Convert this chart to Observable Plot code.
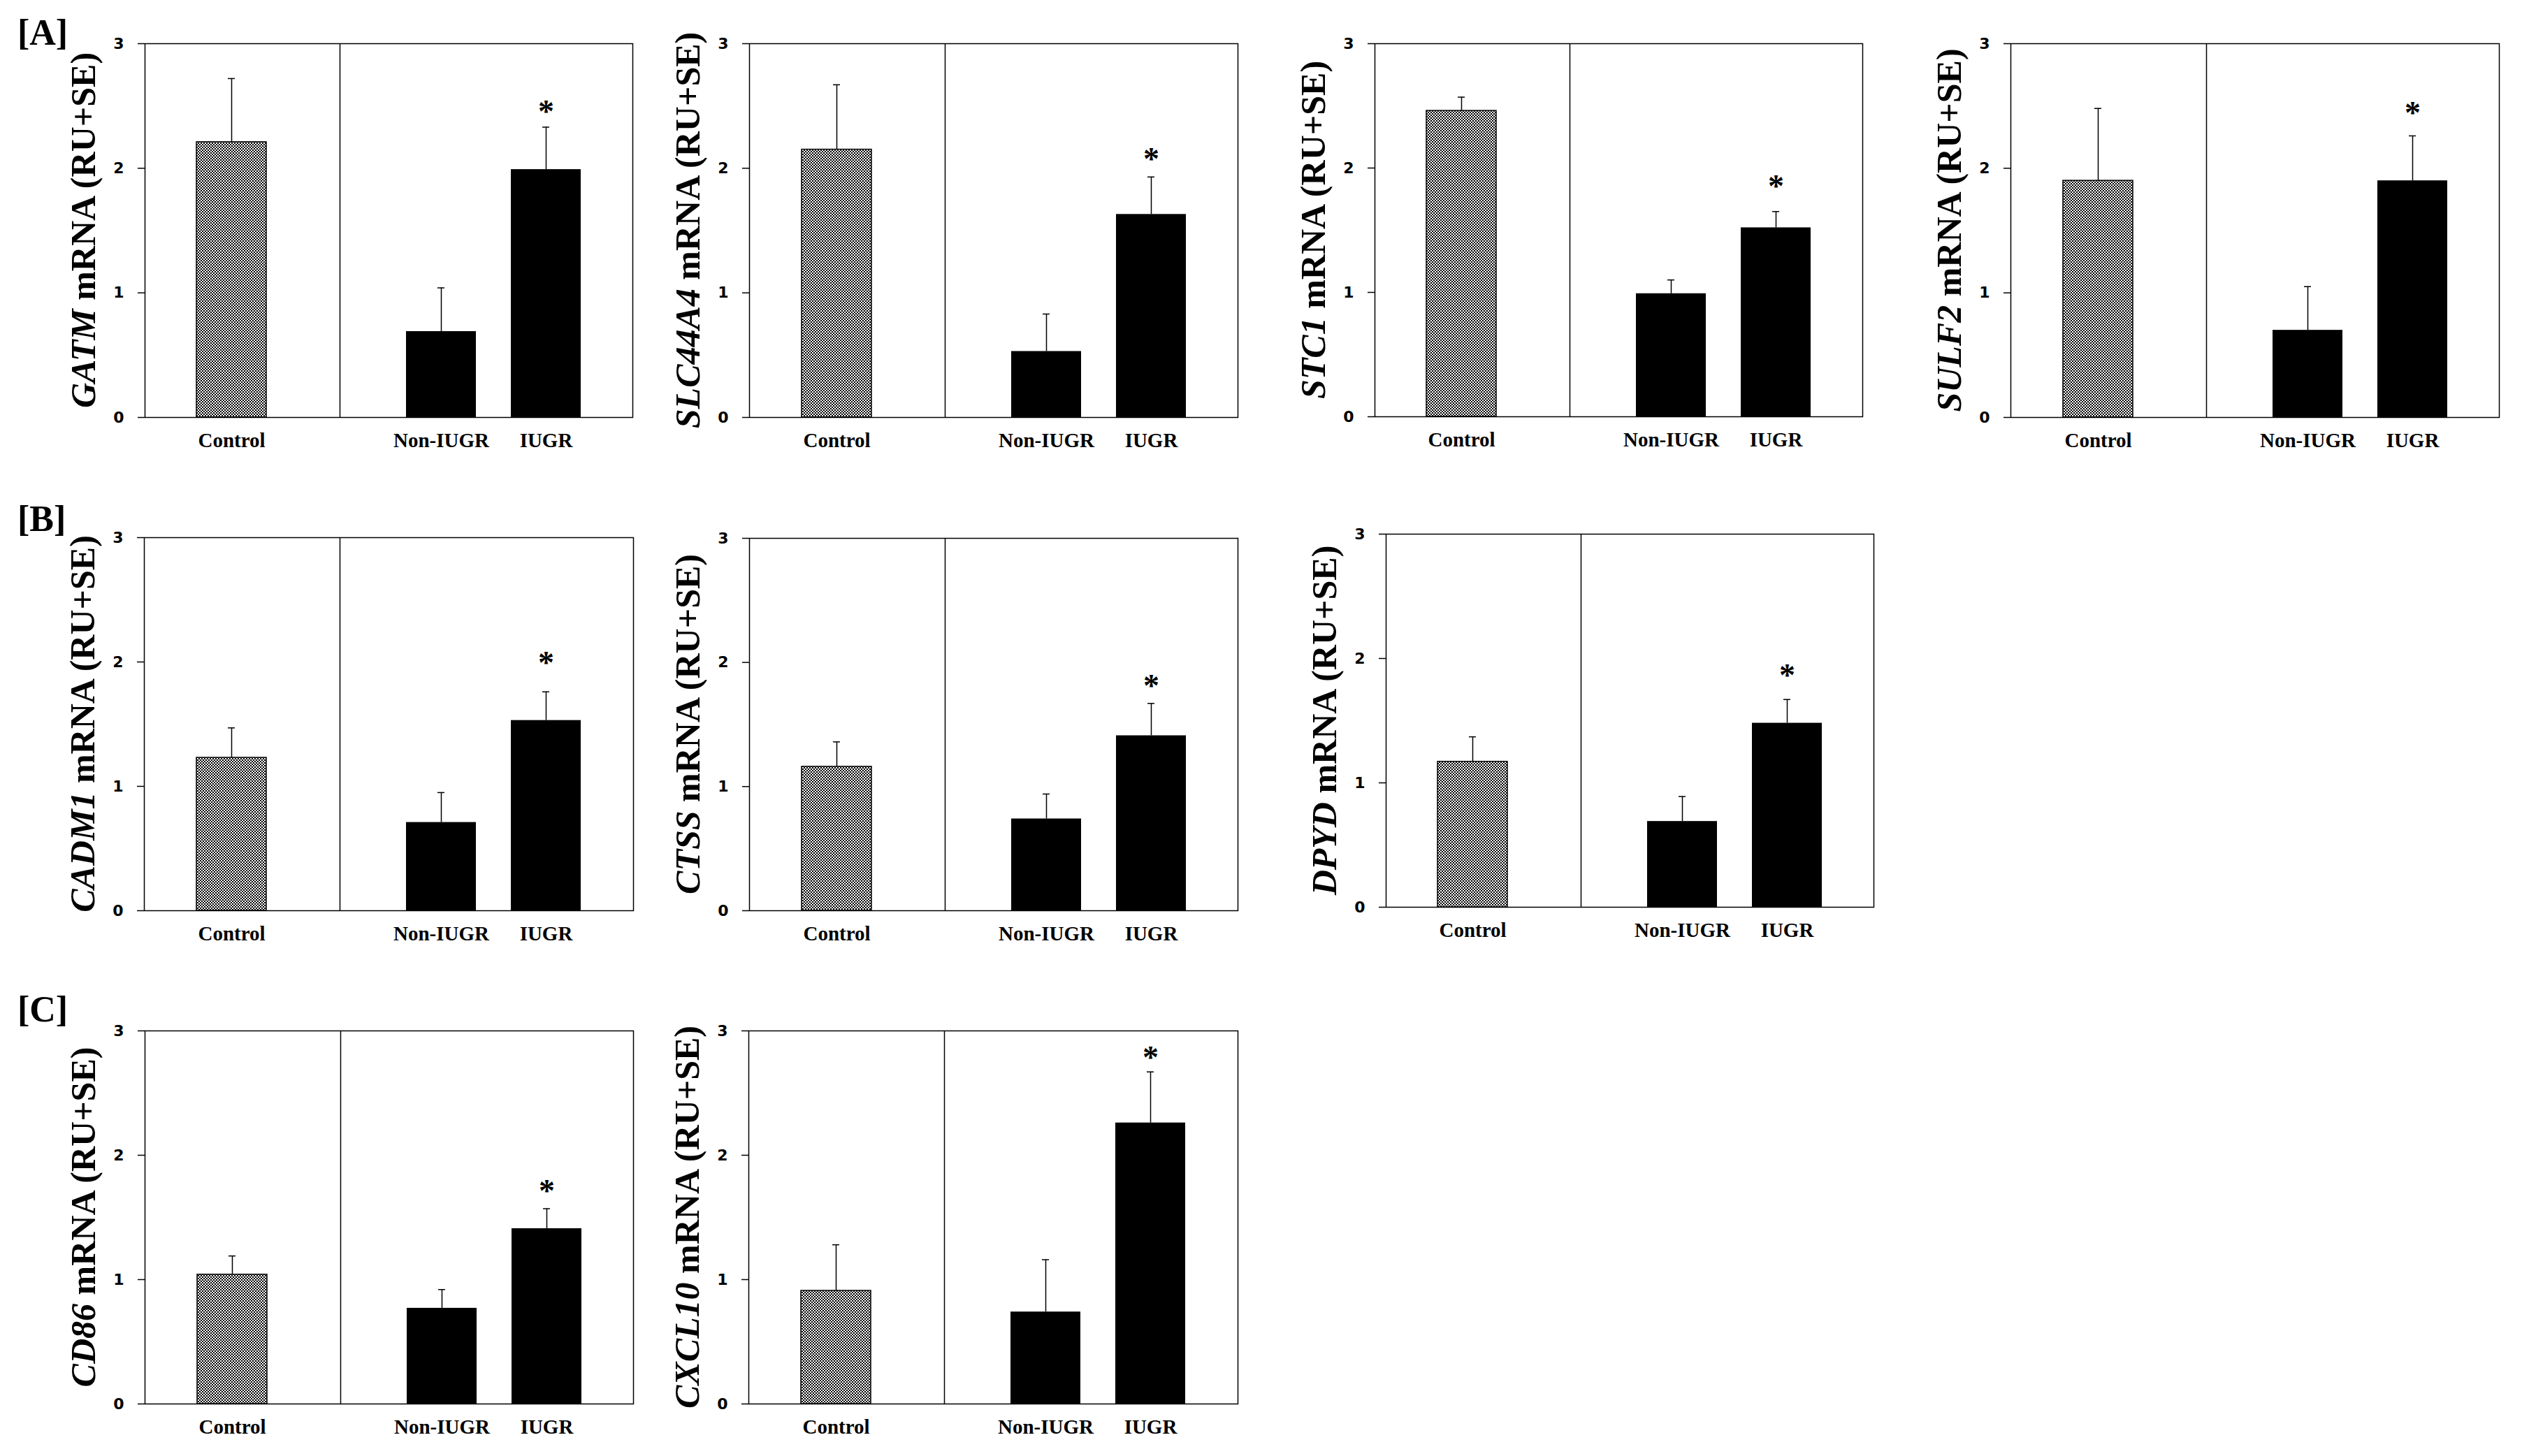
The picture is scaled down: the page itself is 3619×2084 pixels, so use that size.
<!DOCTYPE html>
<html>
<head>
<meta charset="utf-8">
<script src="https://cdn.jsdelivr.net/npm/d3@7"></script>
<script src="https://cdn.jsdelivr.net/npm/@observablehq/plot@0.6"></script>
<style>
html, body { margin: 0; padding: 0; background: #fff; }
#page { position: relative; width: 3619px; height: 2084px; overflow: hidden; background: #fff; }
#page svg.panel { position: absolute; }
</style>
</head>
<body>
<svg width="0" height="0" style="position:absolute;left:0;top:0">
  <defs>
    <pattern id="checker" width="4" height="4" patternUnits="userSpaceOnUse">
      <rect width="4" height="4" fill="#ffffff"></rect>
      <rect x="0" y="0" width="2" height="2" fill="#000000"></rect>
      <rect x="2" y="2" width="2" height="2" fill="#000000"></rect>
    </pattern>
  </defs>
</svg>
<div id="page"></div>
<script>
// ---------------- data ----------------
const genes = ["GATM", "SLC44A4", "STC1", "SULF2", "CADM1", "CTSS", "DPYD", "CD86", "CXCL10"];
const groups = ["Control", "Non-IUGR", "IUGR"];
const sectionLetters = ["[A]", "[B]", "[C]"];
const yTicks = [0, 1, 2, 3];

const controlMean = [2.21, 2.15, 2.46, 1.90, 1.23, 1.16, 1.17, 1.04, 0.91];
const nonIugrMean = [0.69, 0.53, 0.99, 0.70, 0.71, 0.74, 0.69, 0.77, 0.74];
const iugrMean    = [1.99, 1.63, 1.52, 1.90, 1.53, 1.41, 1.48, 1.41, 2.26];

const controlSE = [0.51, 0.52, 0.11, 0.58, 0.24, 0.20, 0.20, 0.15, 0.37];
const nonIugrSE = [0.35, 0.30, 0.11, 0.35, 0.24, 0.20, 0.20, 0.15, 0.42];
const iugrSE    = [0.34, 0.30, 0.13, 0.36, 0.23, 0.26, 0.19, 0.16, 0.41];

// height (in axis units) of the significance asterisk above the IUGR bar
const starLevel = [2.49, 2.11, 1.89, 2.48, 2.03, 1.85, 1.90, 1.75, 2.82];

// ---------------- layout (page pixels of each plot frame) ----------------
const frames = [
  {L: 207,  T: 62,   R: 905,  B: 597},
  {L: 1072, T: 62,   R: 1771, B: 597},
  {L: 1967, T: 62,   R: 2665, B: 596},
  {L: 2877, T: 62,   R: 3576, B: 597},
  {L: 206,  T: 769,  R: 906,  B: 1303},
  {L: 1072, T: 770,  R: 1771, B: 1303},
  {L: 1983, T: 764,  R: 2681, B: 1298},
  {L: 207,  T: 1475, R: 906,  B: 2009},
  {L: 1071, T: 1475, R: 1771, B: 2009}
];
const letterPos = [{x: 25, y: 64}, {x: 25, y: 760}, {x: 25, y: 1462}];

const SERIF = "'Liberation Serif', 'Times New Roman', serif";
const SANS = "'DejaVu Sans', Verdana, sans-serif";
const NS = "http://www.w3.org/2000/svg";
const slots = [groups[0], "", groups[1], groups[2]];

function yLabelMark(gene) {
  return (index, scales, values, dims) => {
    const cy = (dims.marginTop + dims.height - dims.marginBottom) / 2;
    const t = document.createElementNS(NS, "text");
    t.setAttribute("transform", `translate(${dims.marginLeft - 71},${cy}) rotate(-90)`);
    t.setAttribute("text-anchor", "middle");
    t.setAttribute("font-family", SERIF);
    t.setAttribute("font-weight", "bold");
    t.setAttribute("font-size", "50");
    t.setAttribute("fill", "black");
    const a = document.createElementNS(NS, "tspan");
    a.setAttribute("font-style", "italic");
    a.textContent = gene;
    const b = document.createElementNS(NS, "tspan");
    b.textContent = " mRNA (RU+SE)";
    t.appendChild(a);
    t.appendChild(b);
    return t;
  };
}

const page = document.getElementById("page");
const mL = 140, mR = 12, mT = 30, mB = 64;

genes.forEach((gene, i) => {
  const f = frames[i];
  const means = [controlMean[i], nonIugrMean[i], iugrMean[i]];
  const ses = [controlSE[i], nonIugrSE[i], iugrSE[i]];
  const rows = groups.map((g, j) => ({group: g, mean: means[j], top: means[j] + ses[j]}));
  const star = [{group: groups[2], level: starLevel[i]}];
  const W = f.R - f.L, H = f.B - f.T;

  const chart = Plot.plot({
    width: W + mL + mR,
    height: H + mT + mB,
    marginLeft: mL, marginRight: mR, marginTop: mT, marginBottom: mB,
    style: {background: "white", color: "black", overflow: "visible"},
    x: {type: "band", domain: slots, paddingInner: 1 / 3, paddingOuter: 0.49, label: null},
    y: {domain: [0, 3], label: null},
    marks: [
      Plot.barY(rows.filter(d => d.group === groups[0]), {x: "group", y: "mean", fill: "url(#checker)", stroke: "black", strokeWidth: 1.5}),
      Plot.barY(rows.filter(d => d.group !== groups[0]), {x: "group", y: "mean", fill: "black"}),
      Plot.ruleX(rows, {x: "group", y1: "mean", y2: "top", stroke: "black", strokeWidth: 1.5}),
      Plot.tickY(rows, {x: "group", y: "top", insetLeft: 45, insetRight: 45, stroke: "black", strokeWidth: 1.5}),
      Plot.text(star, {x: "group", y: "level", text: () => "*", fontFamily: SERIF, fontWeight: "bold", fontSize: 46, lineAnchor: "middle", dy: 7, fill: "black"}),
      Plot.ruleX([slots[1]], {x: d => d, dx: 5, stroke: "black", strokeWidth: 1.5}),
      Plot.frame({stroke: "black", strokeWidth: 1.5}),
      Plot.axisY({ticks: yTicks, tickFormat: d3.format("d"), tickSize: 10, tickPadding: 20, fontSize: 22, fontWeight: "bold", fontFamily: SANS, stroke: "black", strokeWidth: 1.5, label: null}),
      Plot.axisX({tickSize: 0, tickPadding: 22, fontSize: 29, fontWeight: "bold", fontFamily: SERIF, label: null}),
      yLabelMark(gene)
    ]
  });
  chart.classList.add("panel");
  chart.style.left = (f.L - mL) + "px";
  chart.style.top = (f.T - mT) + "px";
  chart.style.maxWidth = "none";
  page.appendChild(chart);
});

// section letters
const overlay = d3.select(page).append("svg")
  .attr("class", "panel")
  .attr("width", 200).attr("height", 1500)
  .style("left", "0px").style("top", "0px");
overlay.selectAll("text").data(sectionLetters).join("text")
  .attr("x", (d, k) => letterPos[k].x)
  .attr("y", (d, k) => letterPos[k].y)
  .attr("font-family", SERIF)
  .attr("font-weight", "bold")
  .attr("font-size", 52)
  .attr("fill", "black")
  .text(d => d);
</script>
</body>
</html>
